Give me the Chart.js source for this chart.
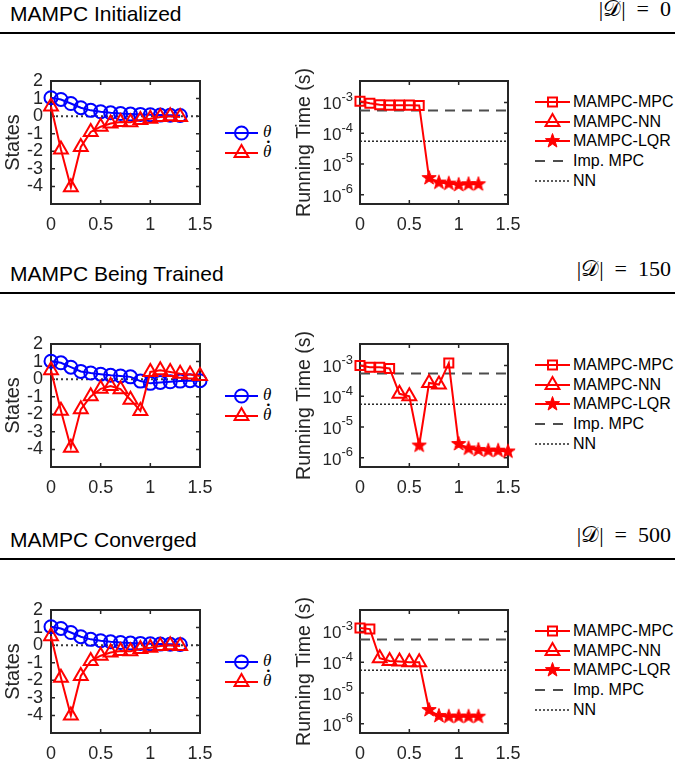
<!DOCTYPE html>
<html><head><meta charset="utf-8">
<script src="https://cdn.jsdelivr.net/npm/chart.js@4.4.1/dist/chart.umd.min.js"></script>
<style>
html,body{margin:0;padding:0;background:#fff;}
#fig{position:relative;width:675px;height:766px;overflow:hidden;font-family:"Liberation Sans",Arial,sans-serif;color:#000;}
.title{position:absolute;left:10px;font-size:21px;line-height:21px;white-space:nowrap;}
.hdr{position:absolute;right:4px;font-family:"Liberation Serif","DejaVu Serif",serif;font-size:22px;line-height:22px;white-space:pre;}
.rule{position:absolute;left:0;width:675px;height:2px;background:#000;}
canvas{position:absolute;}
.lsym{position:absolute;}
.ltxt{position:absolute;white-space:nowrap;font-size:16px;line-height:16px;}
.lmath{position:absolute;white-space:nowrap;font-family:"Liberation Serif","DejaVu Serif",serif;font-style:italic;font-size:17px;line-height:17px;}
.lacc{position:absolute;white-space:nowrap;font-family:"Liberation Serif","DejaVu Serif",serif;font-size:17px;line-height:17px;font-weight:bold;}
</style></head><body><div id="fig"></div>
<script>
// ---------------- data ----------------
const panelTitles = ['MAMPC Initialized', 'MAMPC Being Trained', 'MAMPC Converged'];
const datasetSizes = [0, 150, 500];

const xTicks = [0, 0.5, 1, 1.5];
const stateTicks = [-4, -3, -2, -1, 0, 1, 2];
const timeTicks = [1e-6, 1e-5, 1e-4, 1e-3];

// states panels
const stateTime1 = [0, 0.1, 0.2, 0.3, 0.4, 0.5, 0.6, 0.7, 0.8, 0.9, 1.0, 1.1, 1.2, 1.3];
const theta1     = [1.05, 0.95, 0.72, 0.48, 0.33, 0.25, 0.19, 0.15, 0.12, 0.10, 0.08, 0.06, 0.05, 0.04];
const thetaDot1  = [0.55, -1.9, -4.05, -1.75, -0.9, -0.6, -0.42, -0.33, -0.35, -0.22, -0.15, -0.05, 0.0, -0.05];

const stateTime2 = [0, 0.1, 0.2, 0.3, 0.4, 0.5, 0.6, 0.7, 0.8, 0.9, 1.0, 1.1, 1.2, 1.3, 1.4, 1.5];
const theta2     = [1.02, 0.93, 0.68, 0.44, 0.35, 0.28, 0.22, 0.18, 0.13, -0.11, -0.24, -0.19, -0.15, -0.11, -0.09, -0.09];
const thetaDot2  = [0.5, -1.8, -3.9, -1.72, -0.98, -0.55, -0.39, -0.57, -1.17, -1.81, 0.41, 0.5, 0.41, 0.31, 0.26, 0.18];

const stateTime3 = [0, 0.1, 0.2, 0.3, 0.4, 0.5, 0.6, 0.7, 0.8, 0.9, 1.0, 1.1, 1.2, 1.3];
const theta3     = [1.05, 0.95, 0.72, 0.48, 0.33, 0.25, 0.19, 0.15, 0.12, 0.10, 0.08, 0.06, 0.05, 0.04];
const thetaDot3  = [0.5, -1.85, -4.0, -1.75, -0.9, -0.6, -0.42, -0.33, -0.35, -0.22, -0.15, -0.05, 0.0, -0.05];

// running-time panels
const rtTime1 = [0, 0.1, 0.2, 0.3, 0.4, 0.5, 0.6, 0.7, 0.8, 0.9, 1.0, 1.1, 1.2];
const rtVal1  = [1.1e-3, 9.5e-4, 8.5e-4, 8.2e-4, 8.2e-4, 8.2e-4, 8.0e-4, 3.5e-6, 2.5e-6, 2.3e-6, 2.1e-6, 2.2e-6, 2.2e-6];
const rtMode1 = ['MPC', 'MPC', 'MPC', 'MPC', 'MPC', 'MPC', 'MPC', 'LQR', 'LQR', 'LQR', 'LQR', 'LQR', 'LQR'];

const rtTime2 = [0, 0.1, 0.2, 0.3, 0.4, 0.5, 0.6, 0.7, 0.8, 0.9, 1.0, 1.1, 1.2, 1.3, 1.4, 1.5];
const rtVal2  = [1.0e-3, 8.8e-4, 8.8e-4, 8.0e-4, 1.2e-4, 1.0e-4, 2.5e-6, 2.7e-4, 2.4e-4, 1.2e-3, 2.8e-6, 2.0e-6, 1.8e-6, 1.7e-6, 1.7e-6, 1.6e-6];
const rtMode2 = ['MPC', 'MPC', 'MPC', 'MPC', 'NN', 'NN', 'LQR', 'NN', 'NN', 'MPC', 'LQR', 'LQR', 'LQR', 'LQR', 'LQR', 'LQR'];

const rtTime3 = [0, 0.1, 0.2, 0.3, 0.4, 0.5, 0.6, 0.7, 0.8, 0.9, 1.0, 1.1, 1.2];
const rtVal3  = [1.3e-3, 1.2e-3, 1.35e-4, 1.1e-4, 1.05e-4, 1.0e-4, 1.0e-4, 2.8e-6, 1.8e-6, 1.7e-6, 1.7e-6, 1.7e-6, 1.7e-6];
const rtMode3 = ['MPC', 'MPC', 'NN', 'NN', 'NN', 'NN', 'NN', 'LQR', 'LQR', 'LQR', 'LQR', 'LQR', 'LQR'];

const impMpcTime = 5.5e-4;
const nnTime = 5.5e-5;

const modeLabels = { MPC: 'MAMPC-MPC', NN: 'MAMPC-NN', LQR: 'MAMPC-LQR' };
const stateLabels = ['θ', 'θ̇'];
const refLabels = ['Imp. MPC', 'NN'];

// ---------------- styling / layout ----------------
const RED = '#ff0000', BLUE = '#0000ff', AX = '#262626';
const SANS = '"Liberation Sans", Arial, sans-serif';
const rowRule = [32, 292, 558];
const rowBox = [81, 344, 610];
const BOX_H = 123;
Chart.defaults.font.family = SANS;
Chart.defaults.color = AX;

const fig = document.getElementById('fig');
function el(tag, cls, style, text) {
  const e = document.createElement(tag);
  if (cls) e.className = cls;
  Object.assign(e.style, style || {});
  if (text !== undefined) e.textContent = text;
  fig.appendChild(e);
  return e;
}

// filled pentagram marker
function starPath(g, cx, cy, R, r) {
  g.beginPath();
  for (let k = 0; k < 10; k++) {
    const rad = (k % 2 === 0) ? R : r;
    const a = -Math.PI / 2 + k * Math.PI / 5;
    const px = cx + rad * Math.cos(a), py = cy + rad * Math.sin(a);
    k ? g.lineTo(px, py) : g.moveTo(px, py);
  }
  g.closePath();
}
function starCanvas(R, r, color) {
  const c = document.createElement('canvas');
  const s = Math.ceil(2 * R + 3);
  c.width = s; c.height = s;
  const g = c.getContext('2d');
  starPath(g, s / 2, s / 2, R, r);
  g.fillStyle = color; g.fill();
  g.strokeStyle = color; g.lineWidth = 1; g.stroke();
  return c;
}
function starPoints(cx, cy, R, r) {
  const p = [];
  for (let k = 0; k < 10; k++) {
    const rad = (k % 2 === 0) ? R : r;
    const a = -Math.PI / 2 + k * Math.PI / 5;
    p.push((cx + rad * Math.cos(a)).toFixed(2) + ',' + (cy + rad * Math.sin(a)).toFixed(2));
  }
  return p.join(' ');
}
const STAR = starCanvas(7.5, 3.0, RED);
const markerStyle = {
  MPC: { pointStyle: 'rect', pointRadius: 6.4 },
  NN:  { pointStyle: 'triangle', pointRadius: 8 },
  LQR: { pointStyle: STAR, pointRadius: 7.5 }
};

const boxPlugin = {
  id: 'boxPlugin',
  beforeDatasetsDraw(chart) {
    const { ctx, chartArea: a, scales: { x, y } } = chart;
    ctx.save();
    ctx.strokeStyle = AX;
    ctx.lineWidth = 2;
    ctx.strokeRect(a.left, a.top, a.right - a.left, a.bottom - a.top);
    ctx.lineWidth = 1.5;
    ctx.beginPath();
    x.ticks.forEach(t => {
      const px = x.getPixelForValue(t.value);
      ctx.moveTo(px, a.bottom); ctx.lineTo(px, a.bottom - 4);
      ctx.moveTo(px, a.top); ctx.lineTo(px, a.top + 4);
    });
    y.ticks.forEach(t => {
      const py = y.getPixelForValue(t.value);
      ctx.moveTo(a.left, py); ctx.lineTo(a.left + 4, py);
      ctx.moveTo(a.right, py); ctx.lineTo(a.right - 4, py);
    });
    ctx.stroke();
    ctx.restore();
  }
};

// power-of-ten tick labels (10 with raised exponent) for log axes
const powerLabelPlugin = {
  id: 'powerLabels',
  afterDraw(chart) {
    const { ctx, chartArea: a, scales: { y } } = chart;
    ctx.save();
    ctx.fillStyle = AX;
    ctx.textBaseline = 'alphabetic';
    ctx.textAlign = 'left';
    y.ticks.forEach(t => {
      const py = y.getPixelForValue(t.value);
      const exp = String(Math.round(Math.log10(t.value)));
      ctx.font = '13px ' + SANS;
      const ew = ctx.measureText(exp).width;
      ctx.font = '17px ' + SANS;
      const bw = ctx.measureText('10').width;
      const xr = a.left - 7;
      ctx.fillText('10', xr - ew - bw, py + 7);
      ctx.font = '13px ' + SANS;
      ctx.fillText(exp, xr - ew, py - 1.5);
    });
    ctx.restore();
  }
};

const pts = (xs, ys) => xs.map((x, i) => ({ x, y: ys[i] }));
const zeroPad = s => { s.paddingLeft = 0; s.paddingRight = 0; s.paddingTop = 0; s.paddingBottom = 0; };

function xScale() {
  return {
    type: 'linear', min: 0, max: 1.5,
    afterBuildTicks: s => { s.ticks = xTicks.map(v => ({ value: v })); },
    grid: { display: false, drawTicks: false },
    border: { display: false },
    ticks: { autoSkip: false, maxRotation: 0, padding: 10, color: AX, font: { size: 18 }, callback: v => String(v) },
    afterFit: s => { s.height = 45; zeroPad(s); }
  };
}
const baseOptions = () => ({
  animation: false, responsive: false, devicePixelRatio: 1,
  events: [],
  plugins: { legend: { display: false }, tooltip: { enabled: false } },
  layout: { padding: { top: 12, right: 15, left: 0, bottom: 0 } }
});

function statesChart(row, t, th, thd) {
  const cv = el('canvas', null, { left: '0px', top: (rowBox[row] - 12) + 'px' });
  cv.width = 215; cv.height = 12 + BOX_H + 45;
  const opt = baseOptions();
  opt.scales = {
    x: xScale(),
    y: {
      type: 'linear', min: -5, max: 2,
      afterBuildTicks: s => { s.ticks = stateTicks.map(v => ({ value: v })); },
      grid: { display: false, drawTicks: false },
      border: { display: false },
      ticks: { autoSkip: false, padding: 8, color: AX, font: { size: 18 }, callback: v => String(v) },
      title: { display: true, text: 'States', color: AX, font: { size: 20 }, padding: { top: 1, bottom: 0 } },
      afterFit: s => { s.width = 51; zeroPad(s); }
    }
  };
  new Chart(cv, {
    type: 'line',
    data: {
      datasets: [
        { label: stateLabels[1], data: pts(t, thd), borderColor: RED, borderWidth: 2, pointStyle: 'triangle', pointRadius: 8,
          pointBorderWidth: 2, pointBorderColor: RED, pointBackgroundColor: 'rgba(0,0,0,0)', clip: false, order: 1 },
        { label: stateLabels[0], data: pts(t, th), borderColor: BLUE, borderWidth: 2, pointStyle: 'circle', pointRadius: 6.5,
          pointBorderWidth: 2, pointBorderColor: BLUE, pointBackgroundColor: 'rgba(0,0,0,0)', clip: false, order: 2 },
        { label: 'zero', data: [{ x: 0, y: 0 }, { x: 1.5, y: 0 }], borderColor: '#3a3a3a', borderWidth: 2, borderDash: [2, 3],
          pointRadius: 0, order: 3 }
      ]
    },
    options: opt,
    plugins: [boxPlugin]
  });
}

function timeChart(row, t, vals, modes) {
  const cv = el('canvas', null, { left: '290px', top: (rowBox[row] - 12) + 'px' });
  cv.width = 235; cv.height = 12 + BOX_H + 45;
  const opt = baseOptions();
  opt.layout.padding.right = 17;
  opt.scales = {
    x: xScale(),
    y: {
      type: 'logarithmic', min: 5e-7, max: 5e-3,
      afterBuildTicks: s => { s.ticks = timeTicks.map(v => ({ value: v })); },
      grid: { display: false, drawTicks: false },
      border: { display: false },
      ticks: { display: false },
      title: { display: true, text: 'Running Time (s)', color: AX, font: { size: 19.5 }, padding: { top: 3, bottom: 0 } },
      afterFit: s => { s.width = 70; zeroPad(s); }
    }
  };
  const markerSets = ['MPC', 'NN', 'LQR'].map(m => {
    const idx = modes.map((mm, i) => mm === m ? i : -1).filter(i => i >= 0);
    return {
      label: modeLabels[m],
      data: idx.map(i => ({ x: t[i], y: vals[i] })),
      showLine: false,
      pointStyle: markerStyle[m].pointStyle, pointRadius: markerStyle[m].pointRadius,
      pointBorderWidth: 2, pointBorderColor: RED,
      pointBackgroundColor: m === 'LQR' ? RED : 'rgba(0,0,0,0)',
      clip: false, order: 1
    };
  });
  new Chart(cv, {
    type: 'line',
    data: {
      datasets: markerSets.concat([
        { label: 'trajectory', data: pts(t, vals), borderColor: RED, borderWidth: 2, pointRadius: 0, clip: false, order: 2 },
        { label: refLabels[0], data: [{ x: 0, y: impMpcTime }, { x: 1.5, y: impMpcTime }], borderColor: '#4d4d4d',
          borderWidth: 2, borderDash: [10, 7], pointRadius: 0, order: 3 },
        { label: refLabels[1], data: [{ x: 0, y: nnTime }, { x: 1.5, y: nnTime }], borderColor: '#262626',
          borderWidth: 1.5, borderDash: [2, 2], pointRadius: 0, order: 3 }
      ])
    },
    options: opt,
    plugins: [boxPlugin, powerLabelPlugin]
  });
}

// legends (HTML text + SVG symbols)
function svgSym(left, cy, inner) {
  const d = el('div', 'lsym', { left: left + 'px', top: (cy - 12) + 'px', width: '40px', height: '24px' });
  d.innerHTML = '<svg width="40" height="24" xmlns="http://www.w3.org/2000/svg">' + inner + '</svg>';
}
function stateLegend(row) {
  const b = rowBox[row];
  const ys = [b + 51.5, b + 71.5];
  svgSym(222, ys[0], '<line x1="3" y1="12" x2="36" y2="12" stroke="' + BLUE + '" stroke-width="2"/>' +
    '<circle cx="19.5" cy="12" r="6.5" fill="none" stroke="' + BLUE + '" stroke-width="2"/>');
  svgSym(222, ys[1], '<line x1="3" y1="12" x2="36" y2="12" stroke="' + RED + '" stroke-width="2"/>' +
    '<polygon points="19.5,4 12.57,16 26.43,16" fill="none" stroke="' + RED + '" stroke-width="2"/>');
  el('div', 'lmath', { left: '263px', top: (ys[0] - 10) + 'px' }, stateLabels[0]);
  // θ̇ : base letter plus a dot accent placed above it
  el('div', 'lmath', { left: '263px', top: (ys[1] - 10) + 'px' }, stateLabels[1].charAt(0));
  el('div', 'lacc', { left: '265.5px', top: (ys[1] - 14.5) + 'px' }, '\u02D9');
}
function timeLegend(row) {
  const b = rowBox[row];
  const ys = [b + 21, b + 40.7, b + 60.4, b + 80.1, b + 99.8];
  const line = '<line x1="2" y1="12" x2="37" y2="12" stroke="' + RED + '" stroke-width="2"/>';
  svgSym(533, ys[0], line + '<rect x="15" y="7.5" width="9" height="9" fill="none" stroke="' + RED + '" stroke-width="2"/>');
  svgSym(533, ys[1], line + '<polygon points="19.5,4 12.57,16 26.43,16" fill="none" stroke="' + RED + '" stroke-width="2"/>');
  svgSym(533, ys[2], line + '<polygon points="' + starPoints(19.5, 12, 7.5, 3.0) + '" fill="' + RED + '" stroke="' + RED + '" stroke-width="1"/>');
  svgSym(533, ys[3], '<line x1="2" y1="12" x2="37" y2="12" stroke="#4d4d4d" stroke-width="2" stroke-dasharray="10 8"/>');
  svgSym(533, ys[4], '<line x1="2" y1="12" x2="37" y2="12" stroke="#262626" stroke-width="1.5" stroke-dasharray="2 2"/>');
  const texts = [modeLabels.MPC, modeLabels.NN, modeLabels.LQR, refLabels[0], refLabels[1]];
  texts.forEach((tx, i) => el('div', 'ltxt', { left: '573px', top: (ys[i] - 8) + 'px' }, tx));
}

// headers
for (let r = 0; r < 3; r++) {
  el('div', 'title', { top: (rowRule[r] - 29) + 'px' }, panelTitles[r]);
  el('div', 'hdr', { top: (rowRule[r] - 34) + 'px' }, '|𝒟|\u2002=\u2002' + datasetSizes[r]);
  el('div', 'rule', { top: rowRule[r] + 'px' });
}

statesChart(0, stateTime1, theta1, thetaDot1);
statesChart(1, stateTime2, theta2, thetaDot2);
statesChart(2, stateTime3, theta3, thetaDot3);
timeChart(0, rtTime1, rtVal1, rtMode1);
timeChart(1, rtTime2, rtVal2, rtMode2);
timeChart(2, rtTime3, rtVal3, rtMode3);
for (let r = 0; r < 3; r++) { stateLegend(r); timeLegend(r); }
</script></body></html>
